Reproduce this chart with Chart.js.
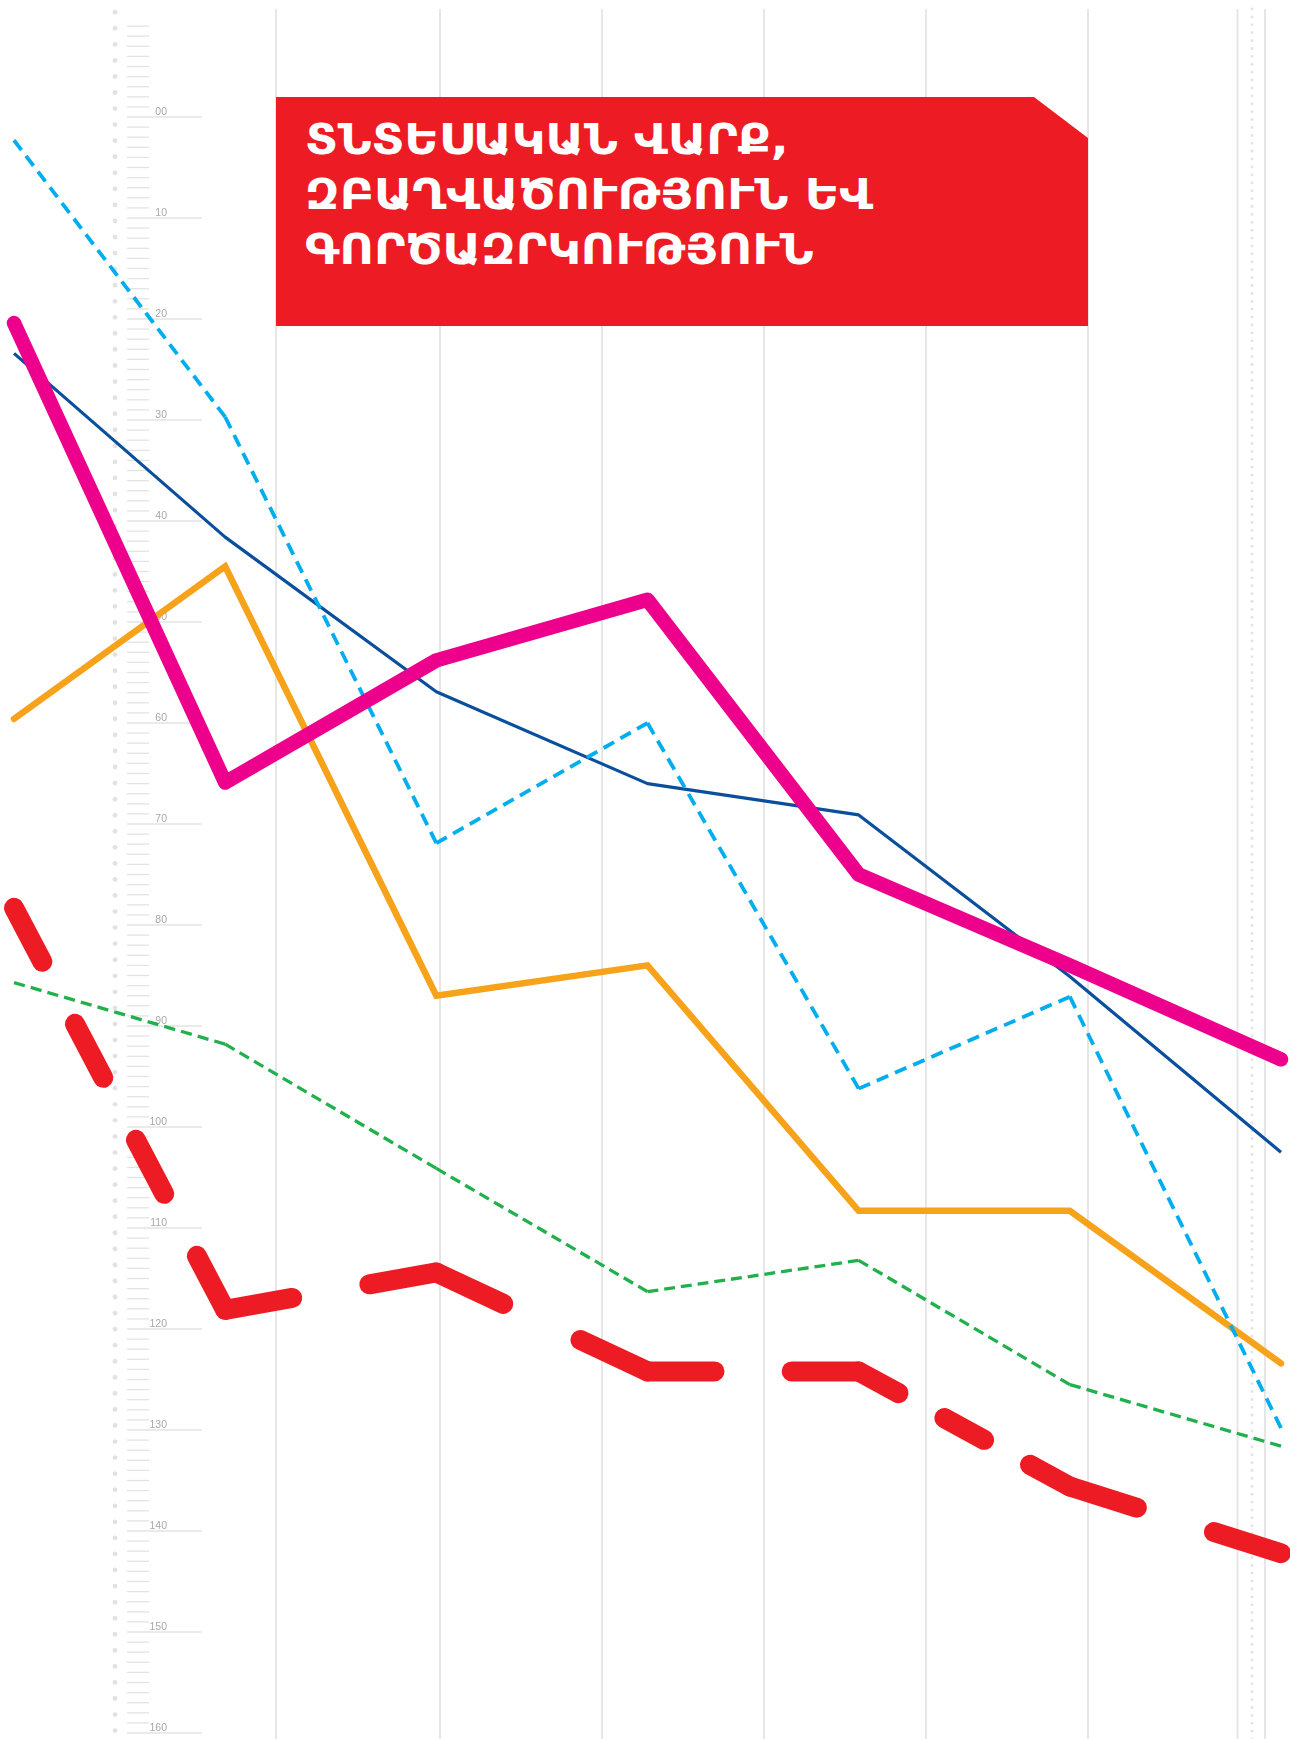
<!DOCTYPE html>
<html>
<head>
<meta charset="utf-8">
<script src="https://cdn.jsdelivr.net/npm/chart.js@4.4.1/dist/chart.umd.min.js"></script>
<style>
html,body{margin:0;padding:0;background:#ffffff;}
#wrap{position:relative;width:1290px;height:1739px;overflow:hidden;background:#fff;}
#chart{position:absolute;left:0;top:0;}
#title{position:absolute;left:276px;top:97px;width:812px;height:229px;background:#ed1c24;
  clip-path:polygon(0 0, 758px 0, 812px 41px, 812px 229px, 0 229px);}
#title .txt{position:absolute;left:29px;top:15px;color:#ffffff;
  font-family:"DejaVu Sans Condensed","DejaVu Sans",sans-serif;font-weight:bold;
  font-size:42px;line-height:55px;white-space:nowrap;transform-origin:0 0;}
#title .txt div{display:block;}
</style>
</head>
<body>
<div id="wrap">
  <canvas id="chart" width="1290" height="1739"></canvas>
  <div id="title"><div class="txt" id="titleTxt">
    <div>ՏՆՏԵՍԱԿԱՆ ՎԱՐՔ,</div>
    <div><span id="l2">ԶԲԱՂՎԱԾՈՒԹՅՈՒՆ ԵՎ</span></div>
    <div>ԳՈՐԾԱԶՐԿՈՒԹՅՈՒՆ</div>
  </div></div>
</div>
<script>
// ---- data ----
const categories = ['1', '2', '3', '4', '5', '6', '7'];
const magentaValues = [20.4, 65.9, 53.8, 47.8, 75.0, 84.0, 93.3];
const cyanValues    = [2.3, 29.7, 71.9, 60.0, 96.2, 87.1, 129.8];
const navyValues    = [23.4, 41.6, 56.9, 66.0, 69.1, 85.1, 102.5];
const orangeValues  = [59.6, 44.5, 87.0, 84.0, 108.3, 108.3, 123.4];
const greenValues   = [85.7, 91.8, 104.1, 116.3, 113.2, 125.5, 131.6];
const redValues     = [78.3, 118.1, 114.4, 124.2, 124.2, 135.6, 142.2];
const tickLabels    = ['00','10','20','30','40','50','60','70','80','90','100','110','120','130','140','150','160'];

// fit title width
(function(){
  const l2 = document.getElementById('l2');
  const w = l2.getBoundingClientRect().width;
  const s = 568 / w;
  document.getElementById('titleTxt').style.transform = 'scaleX(' + s + ')';
})();

// dashes aligned to corners: every segment begins and ends with a dash
function alignedDash(d0, g0) {
  return {
    borderDash: (ctx) => {
      const L = Math.hypot(ctx.p1.x - ctx.p0.x, ctx.p1.y - ctx.p0.y);
      const n = Math.max(1, Math.round((L + g0) / (d0 + g0)));
      if (n === 1) return [L + 1, 1];
      const k = L / (n * d0 + (n - 1) * g0);
      return [d0 * k, g0 * k];
    },
    borderDashOffset: 0
  };
}

const decor = {
  id: 'decor',
  beforeDatasetsDraw(chart, args, o) {
    const ctx = chart.ctx;
    const y = chart.scales.y;
    const H = chart.height;
    ctx.save();
    // vertical decorative grid
    ctx.strokeStyle = '#e6e6e6';
    ctx.lineWidth = 2;
    for (const gx of o.gridX) {
      ctx.beginPath(); ctx.moveTo(gx, o.gridTop); ctx.lineTo(gx, H); ctx.stroke();
    }
    // dotted columns
    ctx.fillStyle = '#e2e2e2';
    for (let dy = o.leftDotStart; dy < H + 3; dy += o.leftDotStep) {
      ctx.beginPath(); ctx.arc(o.leftDotX, dy, 2.4, 0, Math.PI * 2); ctx.fill();
    }
    for (let dy = o.gridTop; dy < H + 3; dy += o.rightDotStep) {
      ctx.beginPath(); ctx.arc(o.rightDotX, dy, 1.4, 0, Math.PI * 2); ctx.fill();
    }
    // ruler ticks
    ctx.strokeStyle = '#e3e3e3';
    ctx.lineWidth = 1.3;
    for (let v = -9; v <= 160; v++) {
      const py = y.getPixelForValue(v);
      ctx.beginPath();
      ctx.moveTo(o.tickX0, py);
      ctx.lineTo(v % 10 === 0 ? o.majorX1 : o.minorX1, py);
      ctx.stroke();
    }
    // labels
    ctx.fillStyle = '#a8a8a8';
    ctx.font = '10.5px "Liberation Sans", Arial, sans-serif';
    ctx.textAlign = 'right';
    ctx.textBaseline = 'alphabetic';
    tickLabels.forEach((t, i) => {
      ctx.fillText(t, o.labelX, y.getPixelForValue(i * 10) - 2.5);
    });
    ctx.restore();
  }
};

new Chart(document.getElementById('chart'), {
  type: 'line',
  data: {
    labels: categories,
    datasets: [
      { data: magentaValues, borderColor: '#ec008c', borderWidth: 14.5,
        borderCapStyle: 'round', borderJoinStyle: 'round', clip: false },
      { data: cyanValues, borderColor: '#00aeef', borderWidth: 3.8,
        borderCapStyle: 'butt', borderJoinStyle: 'miter', clip: false,
        segment: alignedDash(12.5, 7.5) },
      { data: navyValues, borderColor: '#0a4f9d', borderWidth: 3.2,
        borderJoinStyle: 'round', clip: false },
      { data: orangeValues, borderColor: '#f7a21b', borderWidth: 6.5,
        borderCapStyle: 'round', borderJoinStyle: 'miter', clip: false },
      { data: greenValues, borderColor: '#21b04b', borderWidth: 3.3,
        borderCapStyle: 'butt', clip: false,
        segment: alignedDash(11, 6) },
      { data: redValues, borderColor: '#ed1c24', borderWidth: 20,
        borderCapStyle: 'round', borderJoinStyle: 'round', clip: false,
        segment: alignedDash(55.5, 63.9) }
    ]
  },
  options: {
    responsive: false,
    animation: false,
    devicePixelRatio: 1,
    layout: { padding: { left: 14, right: 9, top: 117, bottom: 6 } },
    scales: {
      x: { display: false, offset: false },
      y: { display: false, min: 0, max: 160, reverse: true }
    },
    elements: { point: { radius: 0, hoverRadius: 0 }, line: { tension: 0, fill: false } },
    plugins: {
      legend: { display: false },
      tooltip: { enabled: false },
      decor: {
        gridX: [276, 440, 602, 764, 926, 1088, 1237.5, 1265],
        gridTop: 9,
        leftDotX: 115, leftDotStart: 12.2, leftDotStep: 16.06,
        rightDotX: 1252, rightDotStep: 7.9,
        tickX0: 127, minorX1: 149, majorX1: 202, labelX: 167
      }
    }
  },
  plugins: [decor]
});
</script>
</body>
</html>
